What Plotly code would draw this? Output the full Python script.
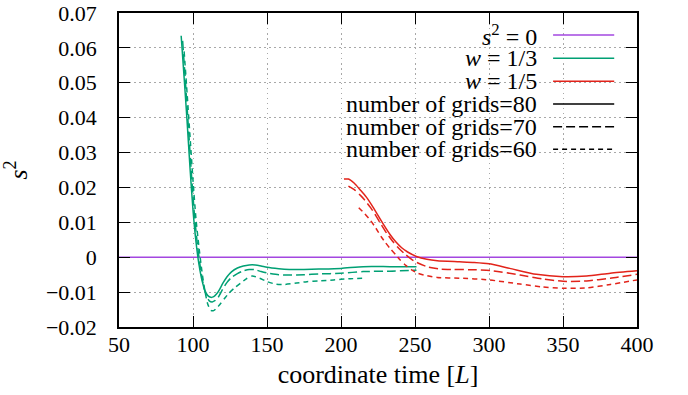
import plotly.graph_objects as go

# ---------------- data ----------------
# w = 1/3 (green)
g80_x = [92, 94, 96, 98, 100, 102, 104, 106, 108, 110, 112, 114, 116, 118, 120, 123, 126, 130, 134, 138,
         142, 146, 150, 158, 165, 175, 185, 200, 215, 233, 251]
g80_y = [0.0635, 0.0515, 0.0390, 0.0255, 0.0135, 0.0045, -0.0020, -0.0065, -0.0095, -0.0110, -0.0115,
         -0.0113, -0.0105, -0.0092, -0.0076, -0.0056, -0.0042, -0.0031, -0.0025, -0.0022,
         -0.0022, -0.0025, -0.0029, -0.0033, -0.0035, -0.0035, -0.0034, -0.0032, -0.0027, -0.0027, -0.0027]

g70_x = [93, 95, 97, 99, 101, 103, 105, 107, 109, 111, 113, 115, 117, 120, 123, 126, 130, 134, 138,
         142, 146, 150, 158, 165, 175, 185, 200, 215, 233, 251]
g70_y = [0.0620, 0.0495, 0.0365, 0.0235, 0.0120, 0.0035, -0.0030, -0.0080, -0.0110, -0.0125, -0.0128,
         -0.0124, -0.0115, -0.0092, -0.0072, -0.0058, -0.0047, -0.0039, -0.0035,
         -0.0036, -0.0041, -0.0045, -0.0050, -0.0051, -0.0050, -0.0048, -0.0046, -0.0041, -0.0040, -0.0037]

g60_x = [94, 96, 98, 100, 102, 104, 106, 108, 110, 112, 114, 116, 118, 121, 124, 128, 132, 136, 140,
         145, 150, 156, 162, 170, 177, 185, 195, 205, 216]
g60_y = [0.0590, 0.0470, 0.0345, 0.0220, 0.0110, 0.0030, -0.0040, -0.0095, -0.0135, -0.0152, -0.0153,
         -0.0146, -0.0136, -0.0120, -0.0104, -0.0088, -0.0075, -0.0062, -0.0054,
         -0.0060, -0.0070, -0.0077, -0.0078, -0.0074, -0.0070, -0.0068, -0.0065, -0.0062, -0.0060]

# w = 1/5 (red)
r80_x = [202, 205, 209, 213, 217, 221, 225, 229, 233, 237, 241, 245, 251, 258, 265, 280, 290, 300,
         314, 332, 350, 366, 382, 400]
r80_y = [0.0224, 0.0224, 0.0212, 0.0193, 0.0173, 0.0148, 0.0120, 0.0092, 0.0066, 0.0044, 0.0027, 0.0015,
         0.0002, -0.0006, -0.0010, -0.0013, -0.0015, -0.0019, -0.0032, -0.0049, -0.0056, -0.0054,
         -0.0046, -0.0039]

r70_x = [205, 209, 213, 216, 220, 223, 227, 231, 235, 239, 243, 249, 258, 267, 276, 290, 301, 321,
         336, 350, 366, 382, 400]
r70_y = [0.0204, 0.0194, 0.0178, 0.0164, 0.0142, 0.0123, 0.0095, 0.0068, 0.0045, 0.0026, 0.0010, -0.0010,
         -0.0027, -0.0034, -0.0035, -0.0036, -0.0038, -0.0051, -0.0062, -0.0069, -0.0068, -0.0060, -0.0049]

r60_x = [212, 216, 220, 223, 227, 230, 233, 237, 240, 244, 248, 252, 256, 265, 280, 300, 321, 336, 350,
         366, 382, 400]
r60_y = [0.0142, 0.0125, 0.0105, 0.0087, 0.0060, 0.0042, 0.0026, 0.0007, -0.0008, -0.0024, -0.0037,
         -0.0046, -0.0051, -0.0058, -0.0060, -0.0065, -0.0077, -0.0085, -0.0089, -0.0088, -0.0078, -0.0065]

zero_x = [50, 400]
zero_y = [0, 0]

x_ticks = [50, 100, 150, 200, 250, 300, 350, 400]
y_ticks = [-0.02, -0.01, 0, 0.01, 0.02, 0.03, 0.04, 0.05, 0.06, 0.07]
y_ticktext = ["\u22120.02", "\u22120.01", "0", "0.01", "0.02", "0.03", "0.04", "0.05", "0.06", "0.07"]

legend_labels = ["<i>s</i><sup>2</sup> = 0", "<i>w</i> = 1/3", "<i>w</i> = 1/5",
                 "number of grids=80", "number of grids=70", "number of grids=60"]

# ---------------- styles ----------------
PURPLE = "#a347e0"
GREEN = "#00a074"
RED = "#e2231a"
D70 = "9px,4px"
D60 = "5px,4px"
GRID_DASH = "1.5px,3.5px"
FONT = "'Liberation Serif', 'DejaVu Serif', serif"

fig = go.Figure()

def add(x, y, color, dash):
    fig.add_trace(go.Scatter(x=x, y=y, mode="lines", line=dict(color=color, width=1.5, dash=dash,
                                                                 shape="spline", smoothing=0.6),
                             showlegend=False, hoverinfo="skip"))

add(zero_x, zero_y, PURPLE, "solid")
add(g60_x, g60_y, GREEN, D60)
add(g70_x, g70_y, GREEN, D70)
add(g80_x, g80_y, GREEN, "solid")
add(r60_x, r60_y, RED, D60)
add(r70_x, r70_y, RED, D70)
add(r80_x, r80_y, RED, "solid")

# legend (manual, gnuplot style: text right-aligned, sample on the right)
row_y = [0.930, 0.856, 0.783, 0.710, 0.638, 0.566]
sample_styles = [(PURPLE, "solid"), (GREEN, "solid"), (RED, "solid"),
                 ("black", "solid"), ("black", D70), ("black", D60)]
shapes = [dict(type="rect", xref="paper", yref="paper", x0=0.398, x1=0.998, y0=0.535, y1=0.997,
               fillcolor="white", line=dict(width=0), layer="between")]
annotations = []
for lab, yy, (c, d) in zip(legend_labels, row_y, sample_styles):
    annotations.append(dict(text=lab, xref="paper", yref="paper", x=0.81, y=yy, xanchor="right",
                            yanchor="middle", showarrow=False, font=dict(family=FONT, size=24, color="black")))
    shapes.append(dict(type="line", xref="paper", yref="paper", x0=0.838, x1=0.956, y0=yy, y1=yy,
                       line=dict(color=c, width=1.5, dash=d)))

fig.update_layout(
    width=688, height=395, autosize=False,
    margin=dict(l=119, r=51, t=13, b=68),
    paper_bgcolor="white", plot_bgcolor="white",
    font=dict(family=FONT, size=22, color="black"),
    shapes=shapes, annotations=annotations,
    showlegend=False,
)
fig.update_xaxes(range=[50, 400], tickvals=x_ticks, showline=True, linecolor="black", linewidth=1.5,
                 mirror="ticks", ticks="inside", ticklen=11, tickwidth=1, tickcolor="black",
                 showgrid=True, gridcolor="#a8a8a8", griddash=GRID_DASH, gridwidth=1, zeroline=False,
                 ticklabelstandoff=-3, automargin=False, ticklabeloverflow="allow",
                 title=dict(text="coordinate time [<i>L</i>]", standoff=9))
fig.update_yaxes(range=[-0.02, 0.07], tickvals=y_ticks, ticktext=y_ticktext, showline=True,
                 linecolor="black", linewidth=1.5, mirror="ticks", ticks="inside", ticklen=11,
                 tickwidth=1, tickcolor="black", showgrid=True, gridcolor="#a8a8a8", griddash=GRID_DASH,
                 gridwidth=1, zeroline=False, ticklabelstandoff=16, automargin=False,
                 ticklabeloverflow="allow",
                 title=dict(text="<i>s</i><sup>2</sup>", standoff=22))

fig.write_html("out.html", config={"displayModeBar": False},
               post_script="document.body.style.margin='0';document.body.style.overflow='hidden';")
